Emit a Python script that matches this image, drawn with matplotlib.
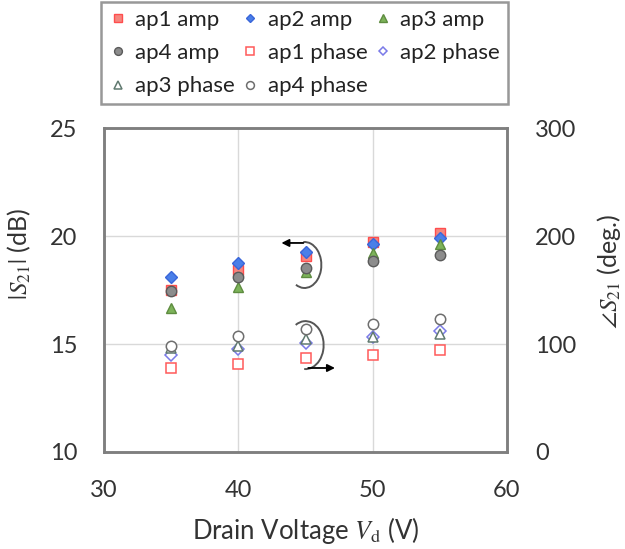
"""
S21 amplitude / phase vs drain voltage
"""
import numpy as np
import matplotlib
matplotlib.use('Agg')
import matplotlib.pyplot as plt
from matplotlib.patches import Arc

plt.rcParams['font.family'] = ['Lato', 'DejaVu Sans']
plt.rcParams['mathtext.fontset'] = 'stix'

# drain voltage (V)
vd = [35, 40, 45, 50, 55]

# |S21| (dB)
ap1_amp = [17.5, 18.43, 19.07, 19.72, 20.12]
ap2_amp = [18.09, 18.77, 19.24, 19.61, 19.92]
ap3_amp = [16.68, 17.65, 18.35, 19.2, 19.63]
ap4_amp = [17.47, 18.12, 18.5, 18.86, 19.12]

# angle S21 (deg.)
ap1_phase = [77.5, 81.5, 87.3, 89.8, 94.5]
ap2_phase = [89.8, 95.0, 101.2, 106.2, 112.0]
ap3_phase = [96.6, 98.1, 104.4, 106.8, 109.5]
ap4_phase = [98.1, 107.4, 113.9, 118.5, 123.2]

x_ticks = [30, 40, 50, 60]
amp_ticks = [10, 15, 20, 25]
phase_ticks = [0, 100, 200, 300]

fig = plt.figure(figsize=(6.25, 5.49), dpi=100)
ax = fig.add_axes([0.1664, 0.1767, 0.6448, 0.59])
ax2 = ax.twinx()

ms = 7.5
h = {}
h['ap1 amp'], = ax.plot(vd, ap1_amp, 's', ms=ms, mfc='#f4877f', mec='#ff4d4d', mew=1, label='ap1 amp')
h['ap2 amp'], = ax.plot(vd, ap2_amp, 'D', ms=ms - 1.5, mfc='#4a7fe8', mec='#3a66d9', mew=1, label='ap2 amp')
h['ap3 amp'], = ax.plot(vd, ap3_amp, '^', ms=ms, mfc='#7db35a', mec='#5e8c40', mew=1, label='ap3 amp')
h['ap4 amp'], = ax.plot(vd, ap4_amp, 'o', ms=ms, mfc='#8c8c8c', mec='#5a5a5a', mew=1, label='ap4 amp')
h['ap1 phase'], = ax2.plot(vd, ap1_phase, 's', ms=ms, mfc='white', mec='#ff5a5a', mew=1.1, label='ap1 phase')
h['ap2 phase'], = ax2.plot(vd, ap2_phase, 'D', ms=ms - 1.5, mfc='white', mec='#7a7ae8', mew=1.1, label='ap2 phase')
h['ap3 phase'], = ax2.plot(vd, ap3_phase, '^', ms=ms, mfc='white', mec='#607a70', mew=1.1, label='ap3 phase')
h['ap4 phase'], = ax2.plot(vd, ap4_phase, 'o', ms=ms, mfc='white', mec='#6e6e6e', mew=1.1, label='ap4 phase')

ax.set_xlim(30, 60)
ax.set_ylim(10, 25)
ax2.set_ylim(0, 300)
ax.set_xticks(x_ticks)
ax.set_yticks(amp_ticks)
ax2.set_yticks(phase_ticks)
ax.grid(True, color='#d9d9d9', lw=1)
ax.set_axisbelow(True)

for a in (ax, ax2):
    a.tick_params(length=0, labelsize=17, colors='#333333', pad=19)
    for s in a.spines.values():
        s.set_color('#7f7f7f')
        s.set_linewidth(1.8)
ax.tick_params(axis='x', pad=20)
ax2.tick_params(axis='y', pad=20)

ax.set_xlabel('Drain Voltage $V_\\mathrm{d}$ (V)', fontsize=18.5, color='#333333')
ax.set_ylabel('$|S_{21}|$ (dB)', fontsize=18, color='#333333')
ax2.set_ylabel('$\\angle S_{21}$ (deg.)', fontsize=18, color='#333333')
# label anchors: xlabel top, left ylabel right edge, right ylabel left edge
ax.xaxis.set_label_coords(0.5, -0.194)
ax.yaxis.set_label_coords(-0.176, 0.61)
ax2.yaxis.set_label_coords(1.218, 0.556)

# arcs with arrows pointing to the axes
ax.add_patch(Arc((44.93, 18.66), 2.5, 2.13, theta1=-125, theta2=95, color='#555555', lw=1.4))
ax.annotate('', xy=(43.0, 19.68), xytext=(45.05, 19.68),
            arrowprops=dict(arrowstyle='-|>', color='black', lw=1.3, mutation_scale=11))
ax.add_patch(Arc((45.0, 14.95), 2.7, 2.22, theta1=-95, theta2=128, color='#555555', lw=1.4))
ax.annotate('', xy=(47.4, 13.89), xytext=(45.0, 13.89),
            arrowprops=dict(arrowstyle='-|>', color='black', lw=1.3, mutation_scale=11))

# legend is filled column by column, order so rows read ap1..ap4 amp, then phase
order = ['ap1 amp', 'ap4 amp', 'ap3 phase',
         'ap2 amp', 'ap1 phase', 'ap4 phase',
         'ap3 amp', 'ap2 phase']
leg = fig.legend(handles=[h[k] for k in order], ncol=3, loc='upper left',
                 bbox_to_anchor=(101 / 625, 1 - 105 / 549, 407 / 625, 103 / 549),
                 mode='expand', fontsize=16, frameon=True, fancybox=False,
                 handlelength=0.8, handletextpad=0.4, columnspacing=0.6,
                 borderpad=0.35, labelspacing=0.6, markerscale=0.75, borderaxespad=0)
leg.get_frame().set_edgecolor('#7f7f7f')
leg.get_frame().set_linewidth(1.8)
for t in leg.get_texts():
    t.set_color('#222222')

plt.savefig('out.png', dpi=100)
